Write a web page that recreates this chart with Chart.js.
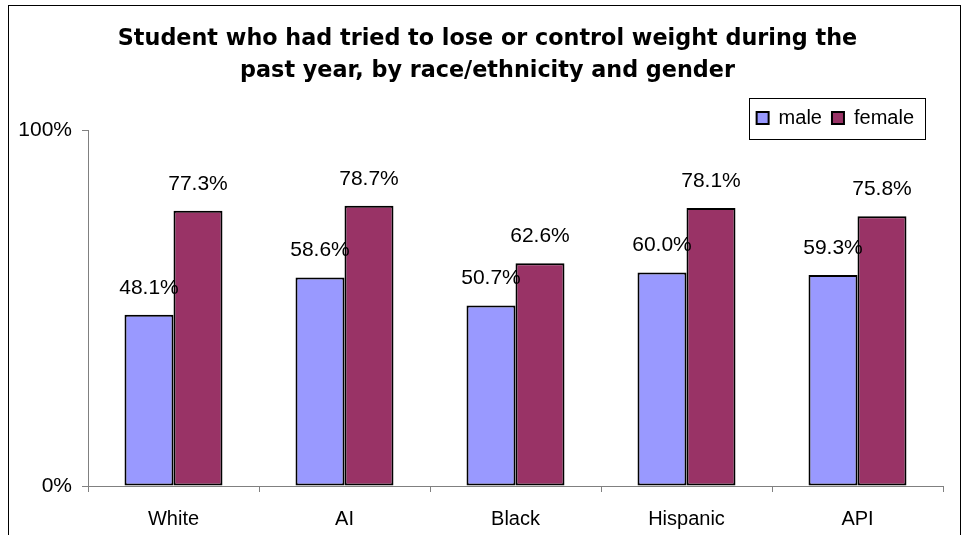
<!DOCTYPE html>
<html>
<head>
<meta charset="utf-8">
<script src="https://cdn.jsdelivr.net/npm/chart.js@4"></script>
<style>
  body { margin: 0; background: #fff; }
</style>
</head>
<body>
<canvas id="chart" width="966" height="535"></canvas>
<script>
const groups = ['White', 'AI', 'Black', 'Hispanic', 'API'];
const male = [48.1, 58.6, 50.7, 60.0, 59.3];
const female = [77.3, 78.7, 62.6, 78.1, 75.8];
const yTicks = [0, 100];

const font = '"Liberation Sans", Arial, sans-serif';
Chart.defaults.font.family = font;
Chart.defaults.color = '#000';

// outer frame, like the box round the original picture
const frame = {
    id: 'frame',
    beforeDraw(chart) {
        const ctx = chart.ctx;
        ctx.save();
        ctx.strokeStyle = '#000';
        ctx.lineWidth = 1;
        ctx.strokeRect(8.5, 5.5, 952, 600);
        ctx.restore();
    },
    afterLayout(chart) {
        // title is centred on the frame, legend sits in from the right edge
        chart.titleBlock.left += 12;
        chart.titleBlock.right += 12;
        chart.legend.right -= 19;
    },
    afterDraw(chart) {
        const lg = chart.legend;
        const ctx = chart.ctx;
        ctx.save();
        ctx.strokeStyle = '#000';
        ctx.lineWidth = 1;
        const x0 = Math.round(lg.right - lg.lineWidths[0] - 8) + 0.5;
        const x1 = Math.round(lg.right + 1) + 0.5;
        ctx.strokeRect(x0, lg.top + 0.5, x1 - x0, 41);
        ctx.restore();
    },
};

const barLabels = {
    id: 'barLabels',
    afterDatasetsDraw(chart) {
        const ctx = chart.ctx;
        ctx.save();
        ctx.font = '21px ' + font;
        ctx.fillStyle = '#000';
        ctx.textAlign = 'center';
        ctx.textBaseline = 'middle';
        chart.data.datasets.forEach((ds, i) => {
            chart.getDatasetMeta(i).data.forEach((bar, j) => {
                ctx.fillText(ds.data[j].toFixed(1) + '%', bar.x, bar.y - 27);
            });
        });
        ctx.restore();
    },
};

new Chart(document.getElementById('chart'), {
    type: 'bar',
    data: {
        labels: groups,
        datasets: [
            {
                label: 'male',
                data: male,
                backgroundColor: '#9999FF',
                borderColor: '#000',
                borderWidth: 2,
                borderSkipped: false,
            },
            {
                label: 'female',
                data: female,
                backgroundColor: '#993366',
                borderColor: '#000',
                borderWidth: 2,
                borderSkipped: false,
            },
        ],
    },
    options: {
        responsive: false,
        animation: false,
        devicePixelRatio: 1,
        categoryPercentage: 0.573,
        barPercentage: 1,
        layout: { padding: { top: 0, left: 8, right: 23, bottom: 0 } },
        plugins: {
            tooltip: { enabled: false },
            title: {
                display: true,
                text: [
                    'Student who had tried to lose or control weight during the',
                    'past year, by race/ethnicity and gender',
                ],
                color: '#000',
                font: { family: '"DejaVu Sans", sans-serif', size: 22.3, weight: 'bold', lineHeight: 32 / 22.3 },
                padding: { top: 23, bottom: 11 },
            },
            legend: {
                position: 'top',
                align: 'end',
                maxHeight: 32,
                labels: {
                    boxWidth: 12,
                    boxHeight: 12,
                    padding: 10,
                    color: '#000',
                    font: { size: 20 },
                },
            },
        },
        scales: {
            x: {
                grid: { drawOnChartArea: false, color: '#808080', tickLength: 6 },
                border: { color: '#808080' },
                ticks: { font: { size: 20 }, color: '#000', padding: 15, maxRotation: 0 },
                afterFit(scale) { scale.height = 49; },
            },
            y: {
                min: 0,
                max: 100,
                grid: { drawOnChartArea: false, color: '#808080', tickLength: 6 },
                border: { color: '#808080' },
                afterBuildTicks(scale) {
                    scale.ticks = yTicks.map((v) => ({ value: v }));
                },
                ticks: {
                    font: { size: 21 },
                    color: '#000',
                    padding: 10,
                    callback: (v) => v + '%',
                },
                afterFit(scale) { scale.width = 80; },
            },
        },
    },
    plugins: [frame, barLabels],
});
</script>
</body>
</html>
